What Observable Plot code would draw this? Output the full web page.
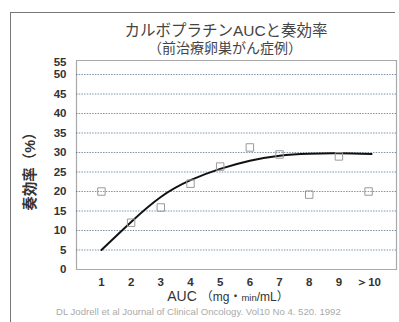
<!DOCTYPE html>
<html>
<head>
<meta charset="utf-8">
<script src="https://cdn.jsdelivr.net/npm/d3@7"></script>
<script src="https://cdn.jsdelivr.net/npm/@observablehq/plot@0.6"></script>
<style>
  html, body { margin: 0; padding: 0; background: #fff; }
  #wrap { position: relative; width: 399px; height: 322px; overflow: hidden;
          font-family: "Liberation Sans", Arial, "Noto Sans CJK JP", sans-serif; }
  #wrap svg { position: absolute; left: 0; top: 0; }
  .border { position: absolute; left: 10px; top: 12px; width: 384px; height: 320px;
            border-left: 1px solid #777; border-top: 1px solid #777; }
  .t { position: absolute; white-space: nowrap; font-family: "Liberation Sans", "Noto Sans CJK JP", sans-serif; }
  #title { left: 0; width: 452px; top: 21px; text-align: center; font-size: 15.5px; color: #444; line-height: 20px; }
  #subtitle { left: 0; width: 450px; top: 38px; text-align: center; font-size: 14px; color: #444; line-height: 20px; }
  #ylabel { left: 28px; top: 168px; transform: translate(-50%, -50%) rotate(-90deg); font-size: 14.5px; color: #333; font-weight: bold; }
  #xlabel { left: 0; width: 456px; top: 287px; text-align: center; font-size: 14px; color: #333; line-height: 18px; }
  #caption { left: 56px; top: 306px; font-size: 9.6px; color: #aaa; }
</style>
</head>
<body>
<div id="wrap">
  <div class="border"></div>
  <div class="t" id="title">カルボプラチンAUCと奏効率</div>
  <div class="t" id="subtitle">（前治療卵巣がん症例）</div>
  <div class="t" id="ylabel">奏効率（%）</div>
  <div class="t" id="xlabel">AUC <span style="font-size:12px">（mg・<span style="font-size:9.5px">min</span>/mL）</span></div>
  <div class="t" id="caption">DL Jodrell et al Journal of Clinical Oncology. Vol10 No 4. 520. 1992</div>
</div>
<script>
const categories = ["1", "2", "3", "4", "5", "6", "7", "8", "9", "＞10"];
const categoryPos = [1, 2, 3, 4, 5, 6, 7, 8, 9, 10];
const responseRates = [20, 12, 15.9, 22, 26.4, 31.3, 29.5, 19.2, 29, 20];
const fitX = [1, 2, 3, 4, 5, 6, 7, 8, 9, 10.1];
const fitY = [5, 12.2, 18.6, 22.9, 25.8, 27.9, 29.2, 29.7, 29.8, 29.6];
const yTicks = [0, 5, 10, 15, 20, 25, 30, 35, 40, 45, 50];
const yGrid = [5, 10, 15, 20, 25, 30, 35, 40, 45, 50];
const yTopLabel = ["55"];

const points = categoryPos.map((x, i) => ({x, y: responseRates[i]}));
const fit = fitX.map((x, i) => ({x, y: fitY[i]}));

const chart = Plot.plot({
  width: 399,
  height: 322,
  marginLeft: 76,
  marginRight: 3,
  marginTop: 60,
  marginBottom: 53,
  style: {fontFamily: "Liberation Sans, Arial, sans-serif", background: "transparent"},
  x: {domain: [0.16, 10.94]},
  y: {domain: [0, 53.6]},
  marks: [
    Plot.gridY(yGrid, {stroke: "#7d93aa", strokeOpacity: 1, strokeDasharray: "1.5,1.2", strokeWidth: 1}),
    Plot.frame({stroke: "#555", strokeDasharray: "1,1", strokeWidth: 1.2}),
    Plot.axisY(yTicks, {tickSize: 0, tickPadding: 10, fontSize: 11.5, fontWeight: "bold", fill: "#333", label: null}),
    Plot.text(yTopLabel, {frameAnchor: "top-left", dx: -10, dy: -3, textAnchor: "end", fontSize: 11.5, fontWeight: "bold", fill: "#333"}),
    Plot.axisX(categoryPos, {tickSize: 0, tickPadding: 8, fontSize: 11.5, fontWeight: "bold", fill: "#333", label: null,
      tickFormat: (d) => categories[categoryPos.indexOf(d)]}),
    Plot.line(fit, {x: "x", y: "y", curve: "natural", stroke: "#111", strokeWidth: 2}),
    Plot.dot(points, {x: "x", y: "y", symbol: "square", r: 4.2, stroke: "#9a9a9a", strokeWidth: 1, fill: "none"})
  ]
});
document.getElementById("wrap").prepend(chart);
</script>
</body>
</html>
